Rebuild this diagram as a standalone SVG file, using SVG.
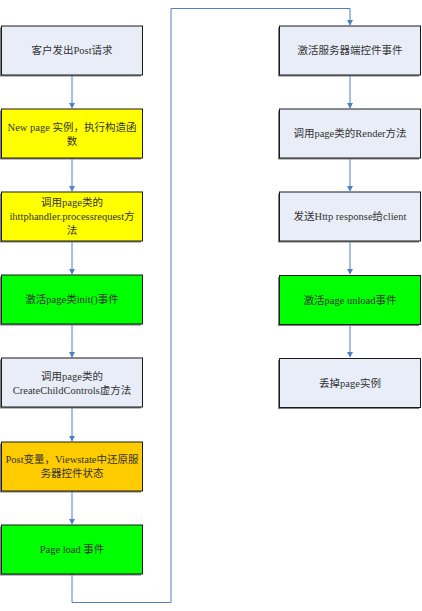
<svg xmlns="http://www.w3.org/2000/svg" width="422" height="611" viewBox="0 0 422 611">
<defs>
<style>
.sh{fill:#7f7f7f}
.bx{stroke:#1a1a1a;stroke-width:1}
.gray{fill:#e8edf7}
.yel{fill:#ffff00}
.grn{fill:#00ff00}
.org{fill:#ffcc00}
.t{font-family:"Liberation Serif","Noto Sans CJK SC",serif;font-size:10.5px;fill:#333;text-anchor:middle}
.c{fill:none;stroke:#4f7fc4;stroke-width:1}
.ah{fill:#4f7fc4}
</style>
</defs>
<rect width="422" height="611" fill="#ffffff"/>
<g id="connectors">
<path class="c" d="M72,75 V108"/>
<path class="c" d="M72,158 V191"/>
<path class="c" d="M72,241 V274"/>
<path class="c" d="M72,324 V357"/>
<path class="c" d="M72,407 V441"/>
<path class="c" d="M72,491 V524"/>
<path class="c" d="M72,574 V602.5 H171 V8.5 H350 V25"/>
<path class="c" d="M350,75 V108"/>
<path class="c" d="M350,158 V191"/>
<path class="c" d="M350,241 V274"/>
<path class="c" d="M350,325 V357"/>
<g class="ah">
<path d="M69,103 L75,103 L72,108.5 Z"/>
<path d="M69,186 L75,186 L72,191.5 Z"/>
<path d="M69,269 L75,269 L72,274.5 Z"/>
<path d="M69,352 L75,352 L72,357.5 Z"/>
<path d="M69,436 L75,436 L72,441.5 Z"/>
<path d="M69,519 L75,519 L72,524.5 Z"/>
<path d="M347,20 L353,20 L350,25.5 Z"/>
<path d="M347,103 L353,103 L350,108.5 Z"/>
<path d="M347,186 L353,186 L350,191.5 Z"/>
<path d="M347,269 L353,269 L350,274.5 Z"/>
<path d="M347,352 L353,352 L350,357.5 Z"/>
</g>
</g>
<g id="n1"><rect class="sh" x="0" y="27.5" width="141" height="49"/><rect class="bx gray" x="1.5" y="26" width="141" height="49"/><text class="t" x="72" y="54">客户发出Post请求</text></g>
<g id="n2"><rect class="sh" x="0" y="110.5" width="141" height="49"/><rect class="bx yel" x="1.5" y="109" width="141" height="49"/><text class="t" x="72" y="131">New page 实例，执行构造函</text><text class="t" x="72" y="145">数</text></g>
<g id="n3"><rect class="sh" x="0" y="193.5" width="141" height="49"/><rect class="bx yel" x="1.5" y="192" width="141" height="49"/><text class="t" x="72" y="206">调用page类的</text><text class="t" x="72" y="220">ihttphandler.processrequest方</text><text class="t" x="72" y="234">法</text></g>
<g id="n4"><rect class="sh" x="0" y="276.5" width="141" height="49"/><rect class="bx grn" x="1.5" y="275" width="141" height="49"/><text class="t" x="72" y="303">激活page类init()事件</text></g>
<g id="n5"><rect class="sh" x="0" y="359.5" width="141" height="49"/><rect class="bx gray" x="1.5" y="358" width="141" height="49"/><text class="t" x="72" y="380">调用page类的</text><text class="t" x="72" y="394">CreateChildControls虚方法</text></g>
<g id="n6"><rect class="sh" x="0" y="443.5" width="141" height="49"/><rect class="bx org" x="1.5" y="442" width="141" height="49"/><text class="t" x="72" y="463">Post变量，Viewstate中还原服</text><text class="t" x="72" y="477">务器控件状态</text></g>
<g id="n7"><rect class="sh" x="0" y="526.5" width="141" height="49"/><rect class="bx grn" x="1.5" y="525" width="141" height="49"/><text class="t" x="72" y="553">Page load 事件</text></g>
<g id="n8"><rect class="sh" x="278" y="27.5" width="141" height="49"/><rect class="bx gray" x="279.5" y="26" width="141" height="49"/><text class="t" x="350" y="54">激活服务器端控件事件</text></g>
<g id="n9"><rect class="sh" x="278" y="110.5" width="141" height="49"/><rect class="bx gray" x="279.5" y="109" width="141" height="49"/><text class="t" x="350" y="137">调用page类的Render方法</text></g>
<g id="n10"><rect class="sh" x="278" y="193.5" width="141" height="49"/><rect class="bx gray" x="279.5" y="192" width="141" height="49"/><text class="t" x="350" y="220">发送Http response给client</text></g>
<g id="n11"><rect class="sh" x="278" y="277" width="141" height="49"/><rect class="bx grn" x="279.5" y="275.5" width="141" height="49"/><text class="t" x="350" y="304">激活page unload事件</text></g>
<g id="n12"><rect class="sh" x="278" y="360" width="141" height="49"/><rect class="bx gray" x="279.5" y="358.5" width="141" height="49"/><text class="t" x="350" y="387">丢掉page实例</text></g>
</svg>
